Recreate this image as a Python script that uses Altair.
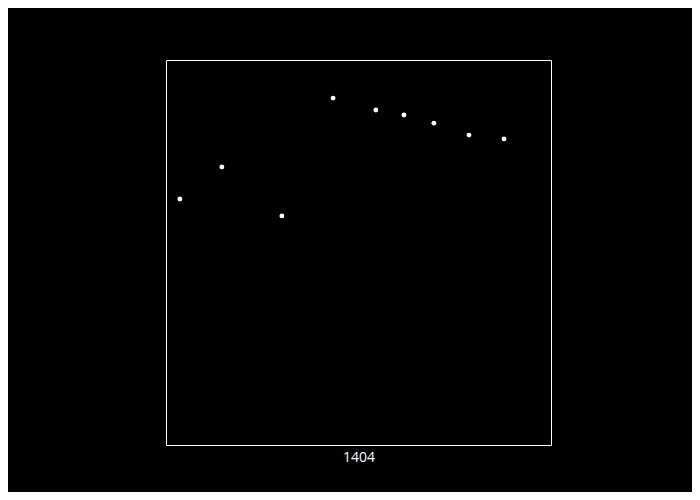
import altair as alt
import pandas as pd

# values read relative to the plot box (0-100 on both axes, no visible ticks)
x_vals = [3.6, 14.5, 30.1, 43.4, 54.5, 61.8, 69.6, 78.7, 87.8]
y_vals = [63.9, 72.2, 59.5, 90.1, 87.0, 85.7, 83.6, 80.5, 79.5]
x_title = "1404"

df = pd.DataFrame({"x": x_vals, "y": y_vals})

chart = alt.Chart(df).mark_circle(size=24, color="white", opacity=1).encode(
    x=alt.X("x:Q", scale=alt.Scale(domain=[0, 100], nice=False, zero=False),
            axis=alt.Axis(title=x_title, labels=False, ticks=False, domain=False,
                          grid=False, titleColor="white", titleFont="Open Sans",
                          titleFontSize=14, titleFontWeight="normal", titlePadding=5)),
    y=alt.Y("y:Q", scale=alt.Scale(domain=[0, 100], nice=False, zero=False),
            axis=None),
).properties(
    width=385, height=385,
    background="black",
    autosize=alt.AutoSizeParams(type="none"),
    padding={"left": 158, "top": 52, "right": 141, "bottom": 47},
    usermeta={"embedOptions": {"defaultStyle": "html, body { background-color: #000 !important; }"}},
).configure_view(stroke="white", strokeWidth=1, fill="black")

chart.save("out.html", embed_options={"renderer": "svg", "actions": False})
